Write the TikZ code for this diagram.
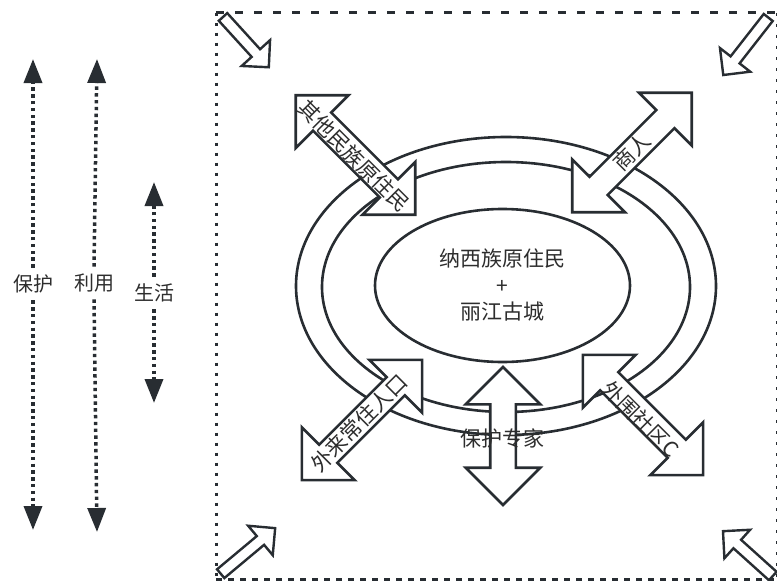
\documentclass[tikz,border=0pt]{standalone}
\usepackage{fontspec}
\setmainfont{Noto Sans CJK SC}
\usetikzlibrary{shapes.arrows,shapes.geometric,arrows.meta}
\definecolor{linec}{RGB}{40,45,50}
\definecolor{txtc}{RGB}{45,45,45}
\begin{document}
\begin{tikzpicture}[x=1pt,y=-1pt,
  >={Triangle[length=24pt,width=18pt]},
  ring/.style={draw=linec, line width=2.6pt, ellipse, inner sep=0pt},
  bigarrow/.style={double arrow, draw=linec, fill=white, line width=2.6pt,
    inner sep=11.5pt, minimum width=0pt, double arrow head extend=24.5pt,
    minimum height=169pt, line join=miter},
  cornerarrow/.style={single arrow, draw=linec, fill=white, line width=2.4pt,
    inner sep=4.5pt, minimum width=0pt, single arrow head extend=13.5pt, line join=miter},
  lbl/.style={text=txtc, font=\fontsize{21pt}{26.5pt}\selectfont, inner sep=0pt},
  sidelbl/.style={text=txtc, font=\fontsize{20pt}{24pt}\selectfont, inner xsep=0pt, inner ysep=7pt},
  dotline/.style={draw=linec, line width=3.5pt, dash pattern=on 3.4pt off 3.4pt, ->},
  frame/.style={draw=linec, line width=3pt},
]
\useasboundingbox (0,0) rectangle (777,581);

% frame
\coordinate (fTL) at (216,12.5);
\coordinate (fTR) at (777,12.5);
\coordinate (fBL) at (216,579);
\coordinate (fBR) at (777,579);
\draw[frame, dash pattern=on 8pt off 11pt] (fTL) -- (fTR);
\draw[frame, dash pattern=on 3pt off 7pt] (fTL) -- (fBL);
\draw[frame, dash pattern=on 6pt off 6pt] (fBL) -- (fBR);
\draw[frame, dash pattern=on 3pt off 8pt] (fTR) -- (fBR);

% left dotted double arrows
\coordinate (p1t) at (33,59);  \coordinate (p1b) at (33,530);
\coordinate (p2t) at (97,59);  \coordinate (p2b) at (97,532);
\coordinate (p3t) at (154,182); \coordinate (p3b) at (154,403);
\node[sidelbl] (p1) at (33,284) {保护};
\node[sidelbl] (p2) at (94,283) {利用};
\node[sidelbl] (p3) at (154,293) {生活};
\draw[dotline] (p1.north) -- (p1t);
\draw[dotline] (p1.south) -- (p1b);
\draw[dotline] (p2.north) -- (p2t);
\draw[dotline] (p2.south) -- (p2b);
\draw[dotline] (p3.north) -- (p3t);
\draw[dotline] (p3.south) -- (p3b);

% ellipses
\node[ring, minimum width=420pt, minimum height=298pt] (outer) at (506,286) {};
\node[ring, minimum width=368pt, minimum height=250pt] (middle) at (506,287) {};
\node[ring, fill=white, minimum width=255pt, minimum height=153pt] (core) at (502.5,285.5) {};
\node[lbl, align=center] (coretext) at (core.center) {纳西族原住民\\+\\丽江古城};

% corner arrows
\node[cornerarrow, minimum height=68pt, rotate=-47.7] (cTL) at (244,40) {};
\node[cornerarrow, minimum height=73pt, rotate=-128] (cTR) at (747.5,44) {};
\node[cornerarrow, minimum height=71pt, rotate=39.9] (cBL) at (245.75,552.75) {};
\node[cornerarrow, minimum height=67pt, rotate=138] (cBR) at (750,555.5) {};

% big double arrows
\node[bigarrow, rotate=-45] (a1) at (355.5,155) {};
\node[bigarrow, rotate=45] (a2) at (632,152.5) {};
\node[bigarrow, rotate=45, minimum height=170pt] (a3) at (362,420) {};
\node[bigarrow, rotate=-45, minimum height=170pt] (a4) at (643,415) {};
\node[bigarrow, rotate=90, minimum height=138pt] (a5) at (503,436) {};

% arrow labels
\node[lbl, rotate=-45] (t1) at (354,156) {其他民族原住民};
\node[lbl, rotate=45] (t2) at (632,152) {商人};
\node[lbl, rotate=45] (t3) at (359,423) {外来常住人口};
\node[lbl, rotate=-45] (t4) at (641,419) {外围社区C};
\node[lbl] (t5) at (502,438) {保护专家};
\end{tikzpicture}
\end{document}
